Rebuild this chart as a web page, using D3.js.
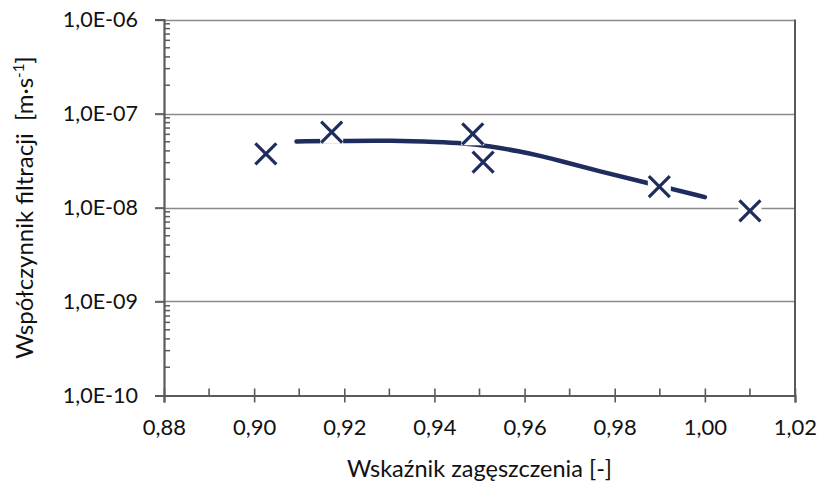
<!DOCTYPE html>
<html>
<head>
<meta charset="utf-8">
<script src="https://cdn.jsdelivr.net/npm/d3@7"></script>
<style>
  html, body { margin: 0; padding: 0; background: #fff; }
  svg { display: block; font-family: Lato, "Open Sans", sans-serif; }
  text { white-space: pre; }
</style>
</head>
<body>
<svg id="chart" width="821" height="485"></svg>
<script>
// ---- data ----
const compaction   = [0.9026, 0.9172, 0.9485, 0.9508, 0.9899, 1.0100];
const permeability = [3.73e-8, 6.34e-8, 6.08e-8, 3.04e-8, 1.67e-8, 9.2e-9];

const trendX = [0.9094, 0.9213, 0.9301, 0.9412, 0.9463, 0.9523, 0.9590, 0.9634, 0.9679, 0.9767, 0.9874, 1.0000];
const trendY = [5.04e-8, 5.12e-8, 5.16e-8, 4.96e-8, 4.82e-8, 4.49e-8, 3.95e-8, 3.55e-8, 3.14e-8, 2.42e-8, 1.82e-8, 1.29e-8];

const xTicks = [0.88, 0.90, 0.92, 0.94, 0.96, 0.98, 1.00, 1.02];
const xMinorTicks = [0.89, 0.91, 0.93, 0.95, 0.97, 0.99, 1.01];
const yTicks = [1e-10, 1e-9, 1e-8, 1e-7, 1e-6];
const xTitle = "Wskaźnik zagęszczenia [-]";
const yTitleMain = "Współczynnik filtracji  [m·s";
const yTitleSup = "-1";
const yTitleEnd = "]";

// ---- layout ----
const W = 821, H = 485;
const m = { left: 164, right: 26, top: 19.5, bottom: 89.5 };
const svg = d3.select("#chart");

const x = d3.scaleLinear().domain([0.88, 1.02]).range([m.left, W - m.right]);
const y = d3.scaleLog().domain([1e-10, 1e-6]).range([H - m.bottom, m.top]);

const navy = "#1f2d5e";
const gridCol = "#8a8a8a";
const axisCol = "#5a5a5a";

// gridlines
svg.append("g").selectAll("line").data(yTicks.filter(d => d > 1e-10)).join("line")
  .attr("x1", m.left - 9).attr("x2", W - m.right)
  .attr("y1", d => Math.round(y(d)) + 0.5).attr("y2", d => Math.round(y(d)) + 0.5)
  .attr("stroke", gridCol).attr("stroke-width", 1.6);

// right border
svg.append("line")
  .attr("x1", W - m.right).attr("x2", W - m.right)
  .attr("y1", y(1e-6)).attr("y2", y(1e-10))
  .attr("stroke", axisCol).attr("stroke-width", 2);

// y minor ticks (inside)
const minorY = [];
for (let e = -10; e < -6; e++) for (let k = 2; k <= 9; k++) minorY.push(k * Math.pow(10, e));
svg.append("g").selectAll("line").data(minorY).join("line")
  .attr("x1", m.left).attr("x2", m.left + 6)
  .attr("y1", d => y(d)).attr("y2", d => y(d))
  .attr("stroke", axisCol).attr("stroke-width", 1.5);

// y axis
const yAxis = d3.axisLeft(y).tickValues(yTicks).tickSize(9).tickPadding(17)
  .tickFormat(d => "1,0E-" + String(-Math.round(Math.log10(d))).padStart(2, "0"));
const gy = svg.append("g").attr("transform", `translate(${m.left},0)`).call(yAxis);
gy.select(".domain").attr("stroke", axisCol).attr("stroke-width", 2.2);
gy.selectAll(".tick line").attr("stroke", axisCol).attr("stroke-width", 1.6);
gy.selectAll(".tick text").attr("font-family", "Lato, sans-serif").attr("font-size", 21.5).attr("fill", "#111");

// x axis
const xAxis = d3.axisBottom(x).tickValues(xTicks).tickSize(7).tickPadding(17)
  .tickFormat(d => d3.format(".2f")(d).replace(".", ","));
const gx = svg.append("g").attr("transform", `translate(0,${H - m.bottom})`).call(xAxis);
gx.select(".domain").attr("stroke", axisCol).attr("stroke-width", 2.2);
gx.selectAll(".tick line").attr("y1", -7).attr("stroke", axisCol).attr("stroke-width", 1.6);
gx.selectAll(".tick text").attr("font-family", "Lato, sans-serif").attr("font-size", 22).attr("fill", "#111");

// x minor ticks (inside only)
svg.append("g").selectAll("line").data(xMinorTicks).join("line")
  .attr("x1", d => x(d)).attr("x2", d => x(d))
  .attr("y1", H - m.bottom - 7).attr("y2", H - m.bottom)
  .attr("stroke", axisCol).attr("stroke-width", 1.6);

// trend line
const trend = trendX.map((d, i) => [d, trendY[i]]);
svg.append("path")
  .datum(trend)
  .attr("d", d3.line().x(d => x(d[0])).y(d => y(d[1])).curve(d3.curveBasis))
  .attr("fill", "none").attr("stroke", navy).attr("stroke-width", 4.5)
  .attr("stroke-linecap", "round");

// markers (X with white background square)
const pts = compaction.map((d, i) => [d, permeability[i]]);
const s = 10.5;
const mk = svg.append("g").selectAll("g").data(pts).join("g")
  .attr("transform", d => `translate(${x(d[0])},${y(d[1])})`);
mk.append("rect").attr("x", -s - 1).attr("y", -s - 1).attr("width", 2 * s + 2).attr("height", 2 * s + 2)
  .attr("fill", "#fff");
mk.append("path").attr("d", `M${-s},${-s}L${s},${s}M${-s},${s}L${s},${-s}`)
  .attr("stroke", navy).attr("stroke-width", 3.2).attr("fill", "none");

// axis titles
svg.append("text")
  .attr("x", (m.left + W - m.right) / 2).attr("y", 477)
  .attr("text-anchor", "middle").attr("font-size", 23.5).attr("fill", "#111")
  .text(xTitle);

const yt = svg.append("text")
  .attr("transform", `translate(33,${(m.top + H - m.bottom) / 2}) rotate(-90)`)
  .attr("text-anchor", "middle").attr("font-size", 24).attr("fill", "#111");
yt.append("tspan").text(yTitleMain);
yt.append("tspan").attr("font-size", 15).attr("dy", -9).text(yTitleSup);
yt.append("tspan").attr("dy", 9).text(yTitleEnd);
</script>
</body>
</html>
